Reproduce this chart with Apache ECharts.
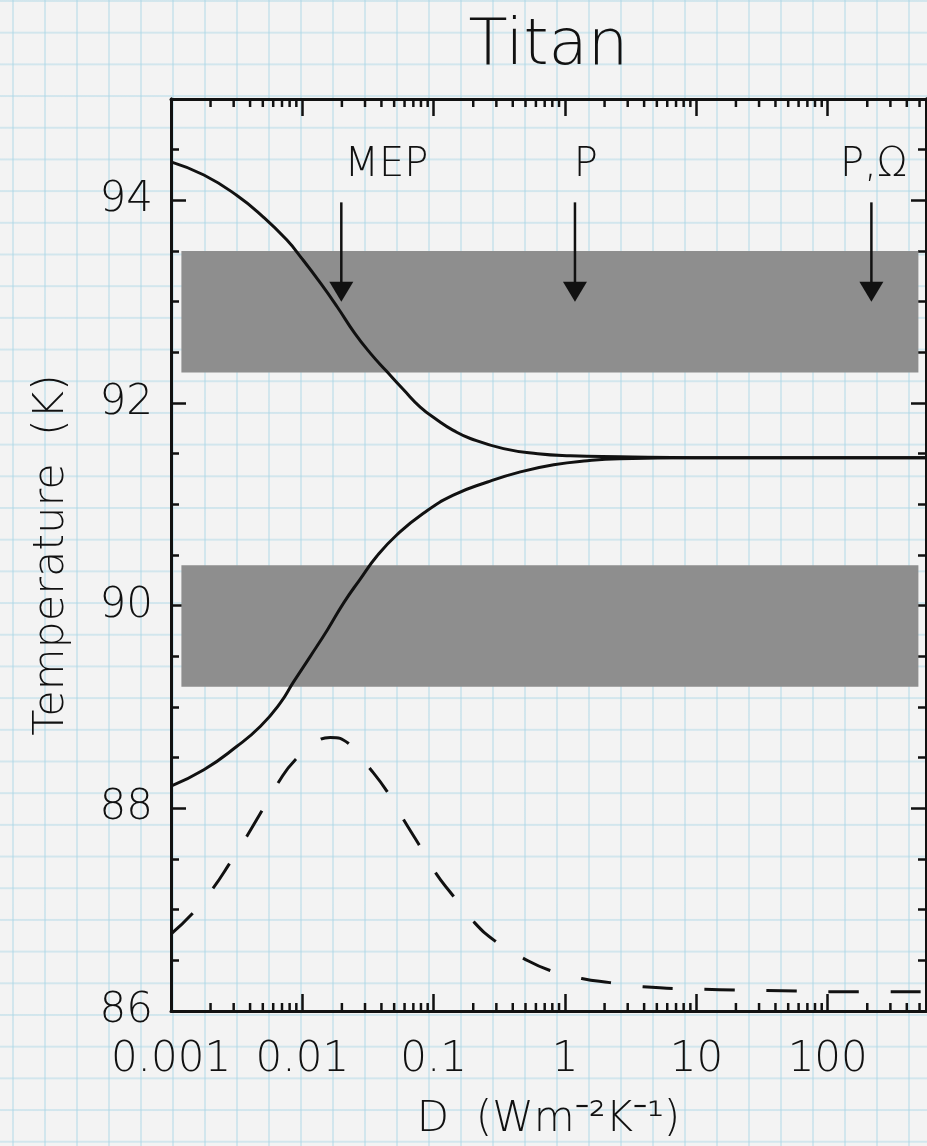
<!DOCTYPE html>
<html>
<head>
<meta charset="utf-8">
<title>Titan</title>
<script src="https://cdn.jsdelivr.net/npm/echarts@6/dist/echarts.min.js"></script>
<style>
  html, body { margin: 0; padding: 0; }
  body {
    width: 927px; height: 1146px; overflow: hidden;
    background-color: #f3f3f3;
    background-image:
      linear-gradient(90deg, rgba(170, 214, 230, 0.45) 2px, transparent 2px),
      linear-gradient(180deg, rgba(170, 214, 230, 0.45) 2px, transparent 2px);
    background-size: 32px 31.7px, 32px 31.7px;
    background-position: 12px 0, 0 0;
  }
  #chart { width: 927px; height: 1146px; }
</style>
</head>
<body>
<div id="chart"></div>
<script>
// D in W m^-2 K^-1, temperatures in K
const D_MIN = 0.001
const D_MAX = 560
const T_MIN = 86
const T_MAX = 95

// upper solid branch
const dHigh = [0.001, 0.00178, 0.00316, 0.005, 0.0076, 0.01, 0.0138, 0.0184, 0.025, 0.033,
  0.044, 0.059, 0.079, 0.107, 0.141, 0.19, 0.34, 0.62, 1.1, 2.6, 10, 560]
const tHigh = [94.38, 94.25, 94.05, 93.84, 93.61, 93.42, 93.18, 92.95, 92.69, 92.49,
  92.31, 92.13, 91.96, 91.83, 91.73, 91.65, 91.55, 91.50, 91.48, 91.47, 91.46, 91.46]

// lower solid branch
const dLow = [0.001, 0.00178, 0.00316, 0.0048, 0.0068, 0.0085, 0.0115, 0.0155, 0.0207, 0.0275,
  0.037, 0.0525, 0.083, 0.141, 0.257, 0.457, 0.82, 1.48, 2.6, 10, 560]
const tLow = [88.22, 88.38, 88.61, 88.81, 89.04, 89.24, 89.50, 89.76, 90.03, 90.26,
  90.49, 90.70, 90.91, 91.09, 91.22, 91.32, 91.39, 91.43, 91.45, 91.46, 91.46]

// dashed curve
const dDash = [0.001, 0.00145, 0.00206, 0.00284, 0.0038, 0.00494, 0.00653, 0.00885, 0.0137, 0.0163,
  0.0225, 0.0319, 0.044, 0.0589, 0.0766, 0.1026, 0.14, 0.1986, 0.294, 0.482,
  0.769, 1.34, 2.2, 3.92, 15, 45, 132, 560]
const tDash = [86.76, 86.96, 87.20, 87.47, 87.73, 87.98, 88.25, 88.48, 88.68, 88.70,
  88.64, 88.41, 88.17, 87.89, 87.65, 87.37, 87.14, 86.89, 86.69, 86.52,
  86.40, 86.32, 86.28, 86.24, 86.21, 86.20, 86.19, 86.19]

// grey observation bands [Tlow, Thigh] and their D extent
const bandRanges = [[92.3, 93.5], [89.2, 90.4]]
const bandD = [0.0012, 490]

// arrows: D position, top and tip temperature
const arrowNames = ['MEP', 'P', 'P,\u03a9']
const arrowD = [0.0198, 1.19, 215]
const arrowTop = 93.98
const arrowTip = 93.0
const arrowLabelD = [0.0437, 1.44, 224]
const arrowLabelT = 94.34

const xTickLabels = ['0.001', '0.01', '0.1', '1', '10', '100']
const xMinorTicks = [
  0.002, 0.003, 0.004, 0.005, 0.006, 0.007, 0.008, 0.009,
  0.02, 0.03, 0.04, 0.05, 0.06, 0.07, 0.08, 0.09,
  0.2, 0.3, 0.4, 0.5, 0.6, 0.7, 0.8, 0.9,
  2, 3, 4, 5, 6, 7, 8, 9,
  20, 30, 40, 50, 60, 70, 80, 90,
  200, 300, 400, 500]

const FONT = 'DejaVu Sans'
const WEIGHT = 200
const INK = '#111'

const zip = (xs, ys) => xs.map((x, i) => [x, ys[i]])

function xLabel(v) {
  const e = Math.log10(v)
  const r = Math.round(e)
  if (Math.abs(e - r) > 1e-6) return ''
  return xTickLabels[r + 3] || ''
}

const textStyle = (size) => ({ color: INK, fontFamily: FONT, fontWeight: WEIGHT, fontSize: size })

const logAxisBase = {
  type: 'log', logBase: 10, min: D_MIN, max: D_MAX,
  axisLine: { show: true, lineStyle: { color: INK, width: 3 } },
  axisTick: { show: true, inside: true, length: 17, lineStyle: { color: INK, width: 2.5 } },
  splitLine: { show: false },
  minorTick: { show: false },
}

const valAxis = (position, interval, len, labels) => ({
  type: 'value', position, min: T_MIN, max: T_MAX, interval,
  axisLine: { show: true, lineStyle: { color: INK, width: 3 } },
  axisTick: { show: true, inside: true, length: len, lineStyle: { color: INK, width: 2.5 } },
  axisLabel: labels
    ? Object.assign(textStyle(42), { show: true, margin: 18, showMaxLabel: false })
    : { show: false },
  splitLine: { show: false },
})

const curve = (d, t, dash) => ({
  type: 'line', data: zip(d, t), smooth: 0.5,
  showSymbol: false, symbol: 'none', z: 3,
  lineStyle: { color: INK, width: 3, type: dash || 'solid' },
})

const chart = echarts.init(document.getElementById('chart'), null, { renderer: 'canvas' })

chart.setOption({
  backgroundColor: 'transparent',
  animation: false,
  grid: { left: 171, right: 1, top: 99, bottom: 135 },
  xAxis: [
    Object.assign({}, logAxisBase, {
      position: 'bottom',
      axisLabel: Object.assign(textStyle(42), { margin: 28, formatter: xLabel, showMaxLabel: false }),
      name: 'D  (Wm\u207b\u00b2K\u207b\u00b9)', nameLocation: 'middle', nameGap: 88,
      nameTextStyle: textStyle(42),
    }),
    Object.assign({}, logAxisBase, {
      position: 'top',
      axisLabel: { show: false },
      name: 'Titan', nameLocation: 'middle', nameGap: 20,
      nameTextStyle: textStyle(64),
    }),
  ],
  yAxis: [
    Object.assign(valAxis('left', 2, 15, true), {
      name: 'Temperature  (K)', nameLocation: 'middle', nameGap: 98,
      nameTextStyle: textStyle(43),
    }),
    valAxis('left', 0.5, 8, false),
    valAxis('right', 2, 15, false),
    valAxis('right', 0.5, 8, false),
  ],
  series: [
    Object.assign(curve(dHigh, tHigh), {
      markArea: {
        silent: true,
        itemStyle: { color: '#8e8e8e', opacity: 1 },
        data: bandRanges.map(b => [{ coord: [bandD[0], b[0]] }, { coord: [bandD[1], b[1]] }]),
      },
    }),
    curve(dLow, tLow),
    curve(dDash, tDash, [30, 32]),
    {
      // minor log ticks on top and bottom axes
      type: 'custom', silent: true, z: 4,
      data: xMinorTicks.map(v => [v, T_MIN]),
      renderItem(params, api) {
        const cs = params.coordSys
        const x = api.coord([api.value(0), T_MIN])[0]
        const top = cs.y, bottom = cs.y + cs.height
        const st = { stroke: INK, lineWidth: 2.5 }
        return {
          type: 'group', children: [
            { type: 'line', shape: { x1: x, y1: bottom, x2: x, y2: bottom - 8 }, style: st },
            { type: 'line', shape: { x1: x, y1: top, x2: x, y2: top + 8 }, style: st },
          ],
        }
      },
    },
    {
      // arrows with labels
      type: 'custom', silent: true, z: 5,
      data: arrowD.map((d, i) => [d, arrowTop, arrowTip, arrowLabelD[i]]),
      renderItem(params, api) {
        const p0 = api.coord([api.value(0), api.value(1)])
        const p1 = api.coord([api.value(0), api.value(2)])
        const lp = api.coord([api.value(3), arrowLabelT])
        const head = 20, half = 12
        return {
          type: 'group', children: [
            { type: 'line', shape: { x1: p0[0], y1: p0[1], x2: p1[0], y2: p1[1] - head + 2 },
              style: { stroke: INK, lineWidth: 2.5 } },
            { type: 'polygon', shape: { points: [[p1[0] - half, p1[1] - head], [p1[0] + half, p1[1] - head], [p1[0], p1[1]]] },
              style: { fill: INK } },
            { type: 'text', x: lp[0], y: lp[1],
              style: { text: arrowNames[params.dataIndex], fill: INK, fontFamily: FONT, fontWeight: WEIGHT,
                fontSize: 40, align: 'center', verticalAlign: 'middle' } },
          ],
        }
      },
    },
  ],
})
</script>
</body>
</html>
